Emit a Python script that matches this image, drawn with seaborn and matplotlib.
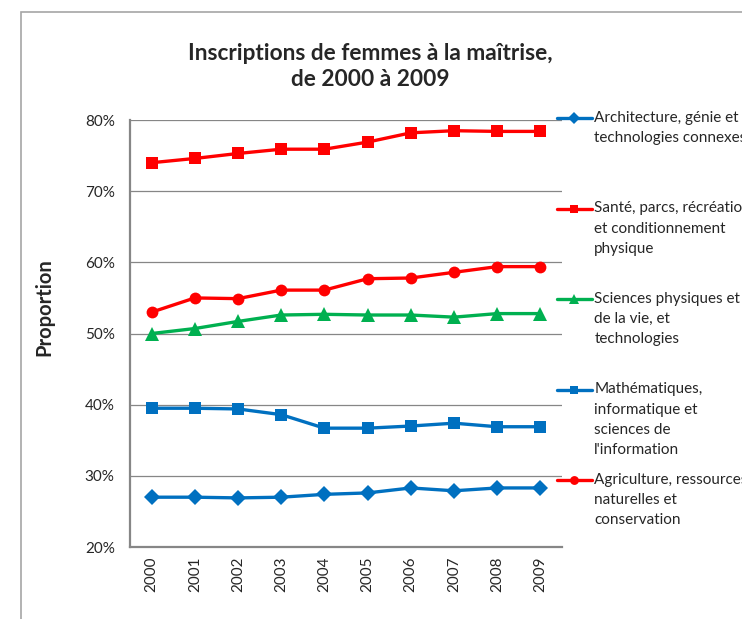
import pandas as pd
import seaborn as sns
import matplotlib.pyplot as plt
from matplotlib.patches import Rectangle
from matplotlib.ticker import PercentFormatter

# ---------------- data ----------------
years = [2000, 2001, 2002, 2003, 2004, 2005, 2006, 2007, 2008, 2009]
architecture = [27.0, 27.0, 26.9, 27.0, 27.4, 27.6, 28.3, 27.9, 28.3, 28.3]
sante = [74.0, 74.6, 75.3, 75.9, 75.9, 76.9, 78.2, 78.5, 78.4, 78.4]
sciences = [50.0, 50.7, 51.7, 52.6, 52.7, 52.6, 52.6, 52.3, 52.8, 52.8]
maths = [39.5, 39.5, 39.4, 38.6, 36.7, 36.7, 37.0, 37.4, 36.9, 36.9]
agriculture = [53.0, 55.0, 54.9, 56.1, 56.1, 57.7, 57.8, 58.6, 59.4, 59.4]

series_names = [
    "Architecture, génie et\ntechnologies connexes",
    "Santé, parcs, récréation\net conditionnement\nphysique",
    "Sciences physiques et\nde la vie, et\ntechnologies",
    "Mathématiques,\ninformatique et\nsciences de\nl'information",
    "Agriculture, ressources\nnaturelles et\nconservation",
]
series_values = [architecture, sante, sciences, maths, agriculture]
colors = ["#0070C0", "#FF0000", "#00B050", "#0070C0", "#FF0000"]
markers = ["D", "s", "^", "s", "o"]
marker_sizes = [8, 8.5, 9.5, 8.5, 8.5]

df = pd.concat(
    [pd.DataFrame({"Année": years, "Proportion": vals, "Domaine": name})
     for name, vals in zip(series_names, series_values)],
    ignore_index=True,
)

# ---------------- plot ----------------
sns.set_style("white")
plt.rcParams["font.family"] = ["Lato", "DejaVu Sans"]

fig = plt.figure(figsize=(7.42, 6.19), dpi=100)
ax = fig.add_axes([0.1752, 0.1163, 0.5822, 0.6898])

sns.lineplot(
    data=df, x="Année", y="Proportion", hue="Domaine", style="Domaine",
    palette=dict(zip(series_names, colors)),
    markers=dict(zip(series_names, markers)),
    dashes=False, linewidth=2.4, markeredgewidth=0, legend=False, ax=ax,
)
for line, ms in zip(ax.get_lines(), marker_sizes):
    line.set_markersize(ms)

ax.set_xlim(1999.5, 2009.5)
ax.set_ylim(20, 80)
ax.set_yticks([20, 30, 40, 50, 60, 70, 80])
ax.yaxis.set_major_formatter(PercentFormatter(decimals=0))
ax.set_xticks(years)
ax.set_xticklabels([str(y) for y in years], rotation=90)
ax.tick_params(axis="y", length=0, pad=11, labelsize=11)
ax.tick_params(axis="x", length=0, pad=7, labelsize=11)

ax.grid(axis="y", color="#868686", linewidth=0.9)
for s in ["top", "right"]:
    ax.spines[s].set_visible(False)
for s in ["left", "bottom"]:
    ax.spines[s].set_color("#868686")
    ax.spines[s].set_linewidth(1.6)

ax.set_xlabel("")
ax.set_ylabel("Proportion", fontsize=14.5, fontweight="bold")
ax.yaxis.set_label_coords(-0.176, 0.562)

fig.text(0.4987, 0.892, "Inscriptions de femmes à la maîtrise,\nde 2000 à 2009",
         ha="center", va="center", fontsize=16.3, fontweight="bold",
         linespacing=1.3)

# one legend per entry so that the entries are evenly spaced like Excel
lines = ax.get_lines()
for i, (line, name) in enumerate(zip(lines, series_names)):
    n = name.count("\n")
    label = "\n" * n + name
    leg = ax.legend([line], [label], loc="center left",
                    bbox_to_anchor=(0.988, 1.0047 - i * 0.2119),
                    frameon=False, borderpad=0, borderaxespad=0,
                    handlelength=2.3, handletextpad=0.15, markerscale=0.75,
                    fontsize=11)
    for t in leg.get_texts():
        t.set_linespacing(1.55)
    ax.add_artist(leg)
ax.legend_ = None

# chart area frame (runs off the right and bottom edges)
fig.add_artist(Rectangle((20.5 / 742, -0.1), 2, (619 - 12) / 619 + 0.1,
                         transform=fig.transFigure, fill=False,
                         edgecolor="#a6a6a6", linewidth=1.2))

fig.savefig("out.png", dpi=100)
